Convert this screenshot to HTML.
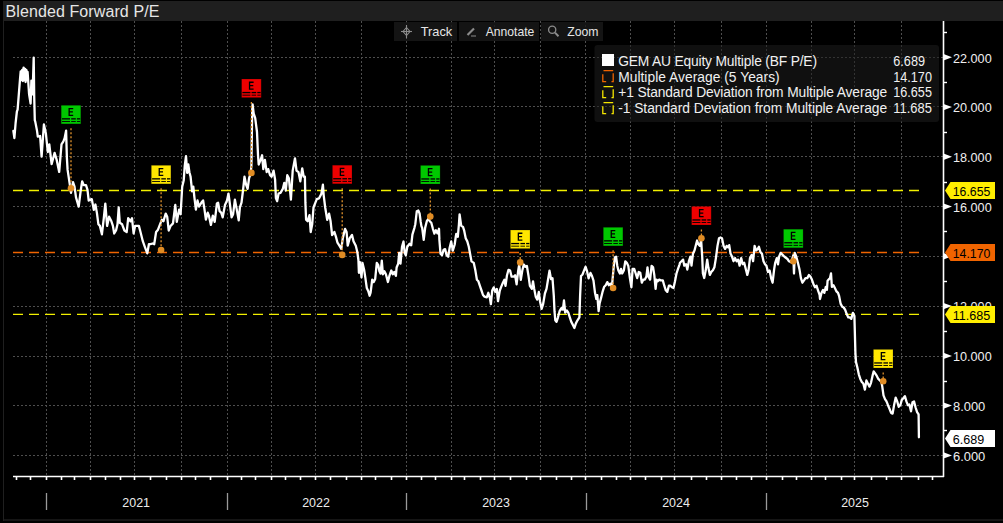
<!DOCTYPE html>
<html><head><meta charset="utf-8"><style>
html,body{margin:0;padding:0;background:#000;width:1003px;height:523px;overflow:hidden}
#frame{position:absolute;left:3px;top:1px;width:1000px;height:520px;background:#1f1f1f}
#title{position:absolute;left:5.5px;top:2.2px;font:16px "Liberation Sans",sans-serif;color:#e6e6e6;line-height:20px;letter-spacing:0.1px}
#plot{position:absolute;left:4px;top:21px;width:999px;height:498px;background:#000}
svg{position:absolute;left:0;top:0}
.g{stroke:#4e4e4e;stroke-width:1;stroke-dasharray:2 2}
text{font-family:"Liberation Sans",sans-serif}
.al{font-size:13.4px;fill:#f0f0f0}
.yl{font-size:13.6px;fill:#ececec}
.lg{font-size:13.8px;fill:#f0f0f0}
.e{font-size:10.8px;fill:#000}
.tt{font-size:13px;fill:#e6e6e6}
.tb{position:absolute;top:22px;height:19px;background:#151515;font:13px "Liberation Sans",sans-serif;color:#e6e6e6;line-height:19px}
</style></head><body>
<div id="frame"></div>
<div id="plot"></div>
<div style="position:absolute;left:4px;top:519px;width:999px;height:2px;background:#151515"></div>
<div id="title">Blended Forward P/E</div>
<svg width="1003" height="523" viewBox="0 0 1003 523">
<line x1="46.5" y1="21" x2="46.5" y2="476.0" class="g"/>
<line x1="90.5" y1="21" x2="90.5" y2="476.0" class="g"/>
<line x1="134.5" y1="21" x2="134.5" y2="476.0" class="g"/>
<line x1="181.5" y1="21" x2="181.5" y2="476.0" class="g"/>
<line x1="227.5" y1="21" x2="227.5" y2="476.0" class="g"/>
<line x1="271.5" y1="21" x2="271.5" y2="476.0" class="g"/>
<line x1="315.5" y1="21" x2="315.5" y2="476.0" class="g"/>
<line x1="361.5" y1="21" x2="361.5" y2="476.0" class="g"/>
<line x1="406.5" y1="21" x2="406.5" y2="476.0" class="g"/>
<line x1="451.5" y1="21" x2="451.5" y2="476.0" class="g"/>
<line x1="494.5" y1="21" x2="494.5" y2="476.0" class="g"/>
<line x1="540.5" y1="21" x2="540.5" y2="476.0" class="g"/>
<line x1="585.5" y1="21" x2="585.5" y2="476.0" class="g"/>
<line x1="630.5" y1="21" x2="630.5" y2="476.0" class="g"/>
<line x1="674.5" y1="21" x2="674.5" y2="476.0" class="g"/>
<line x1="721.5" y1="21" x2="721.5" y2="476.0" class="g"/>
<line x1="766.5" y1="21" x2="766.5" y2="476.0" class="g"/>
<line x1="811.5" y1="21" x2="811.5" y2="476.0" class="g"/>
<line x1="854.5" y1="21" x2="854.5" y2="476.0" class="g"/>
<line x1="901.5" y1="21" x2="901.5" y2="476.0" class="g"/>
<line x1="13" y1="455.5" x2="943.5" y2="455.5" class="g"/>
<line x1="13" y1="405.5" x2="943.5" y2="405.5" class="g"/>
<line x1="13" y1="356.5" x2="943.5" y2="356.5" class="g"/>
<line x1="13" y1="306.5" x2="943.5" y2="306.5" class="g"/>
<line x1="13" y1="256.5" x2="943.5" y2="256.5" class="g"/>
<line x1="13" y1="206.5" x2="943.5" y2="206.5" class="g"/>
<line x1="13" y1="156.5" x2="943.5" y2="156.5" class="g"/>
<line x1="13" y1="106.5" x2="943.5" y2="106.5" class="g"/>
<line x1="13" y1="57.5" x2="943.5" y2="57.5" class="g"/>
<rect x="594.5" y="45" width="344.5" height="77" rx="3" fill="rgba(30,30,30,0.55)"/>
<line x1="13" y1="190.5" x2="920" y2="190.5" stroke="#f2f000" stroke-width="1.35" stroke-dasharray="10 6"/>
<line x1="13" y1="252.5" x2="920" y2="252.5" stroke="#f06400" stroke-width="1.35" stroke-dasharray="10 6"/>
<line x1="13" y1="314.4" x2="920" y2="314.4" stroke="#f2f000" stroke-width="1.35" stroke-dasharray="10 6"/>
<line x1="13" y1="476.5" x2="944.0" y2="476.5" stroke="#fff" stroke-width="1.6"/>
<line x1="943.5" y1="21" x2="943.5" y2="477.0" stroke="#fff" stroke-width="1.6"/>
<line x1="16.5" y1="476.5" x2="16.5" y2="480.0" stroke="#fff" stroke-width="1.6"/>
<line x1="30.5" y1="476.5" x2="30.5" y2="480.0" stroke="#fff" stroke-width="1.6"/>
<line x1="46.5" y1="476.5" x2="46.5" y2="480.0" stroke="#fff" stroke-width="1.6"/>
<line x1="61.5" y1="476.5" x2="61.5" y2="480.0" stroke="#fff" stroke-width="1.6"/>
<line x1="74.5" y1="476.5" x2="74.5" y2="480.0" stroke="#fff" stroke-width="1.6"/>
<line x1="90.5" y1="476.5" x2="90.5" y2="480.0" stroke="#fff" stroke-width="1.6"/>
<line x1="105.5" y1="476.5" x2="105.5" y2="480.0" stroke="#fff" stroke-width="1.6"/>
<line x1="120.5" y1="476.5" x2="120.5" y2="480.0" stroke="#fff" stroke-width="1.6"/>
<line x1="134.5" y1="476.5" x2="134.5" y2="480.0" stroke="#fff" stroke-width="1.6"/>
<line x1="150.5" y1="476.5" x2="150.5" y2="480.0" stroke="#fff" stroke-width="1.6"/>
<line x1="166.5" y1="476.5" x2="166.5" y2="480.0" stroke="#fff" stroke-width="1.6"/>
<line x1="181.5" y1="476.5" x2="181.5" y2="480.0" stroke="#fff" stroke-width="1.6"/>
<line x1="195.5" y1="476.5" x2="195.5" y2="480.0" stroke="#fff" stroke-width="1.6"/>
<line x1="210.5" y1="476.5" x2="210.5" y2="480.0" stroke="#fff" stroke-width="1.6"/>
<line x1="227.5" y1="476.5" x2="227.5" y2="480.0" stroke="#fff" stroke-width="1.6"/>
<line x1="241.5" y1="476.5" x2="241.5" y2="480.0" stroke="#fff" stroke-width="1.6"/>
<line x1="255.5" y1="476.5" x2="255.5" y2="480.0" stroke="#fff" stroke-width="1.6"/>
<line x1="271.5" y1="476.5" x2="271.5" y2="480.0" stroke="#fff" stroke-width="1.6"/>
<line x1="285.5" y1="476.5" x2="285.5" y2="480.0" stroke="#fff" stroke-width="1.6"/>
<line x1="300.5" y1="476.5" x2="300.5" y2="480.0" stroke="#fff" stroke-width="1.6"/>
<line x1="315.5" y1="476.5" x2="315.5" y2="480.0" stroke="#fff" stroke-width="1.6"/>
<line x1="330.5" y1="476.5" x2="330.5" y2="480.0" stroke="#fff" stroke-width="1.6"/>
<line x1="346.5" y1="476.5" x2="346.5" y2="480.0" stroke="#fff" stroke-width="1.6"/>
<line x1="361.5" y1="476.5" x2="361.5" y2="480.0" stroke="#fff" stroke-width="1.6"/>
<line x1="375.5" y1="476.5" x2="375.5" y2="480.0" stroke="#fff" stroke-width="1.6"/>
<line x1="391.5" y1="476.5" x2="391.5" y2="480.0" stroke="#fff" stroke-width="1.6"/>
<line x1="406.5" y1="476.5" x2="406.5" y2="480.0" stroke="#fff" stroke-width="1.6"/>
<line x1="421.5" y1="476.5" x2="421.5" y2="480.0" stroke="#fff" stroke-width="1.6"/>
<line x1="435.5" y1="476.5" x2="435.5" y2="480.0" stroke="#fff" stroke-width="1.6"/>
<line x1="451.5" y1="476.5" x2="451.5" y2="480.0" stroke="#fff" stroke-width="1.6"/>
<line x1="464.5" y1="476.5" x2="464.5" y2="480.0" stroke="#fff" stroke-width="1.6"/>
<line x1="480.5" y1="476.5" x2="480.5" y2="480.0" stroke="#fff" stroke-width="1.6"/>
<line x1="494.5" y1="476.5" x2="494.5" y2="480.0" stroke="#fff" stroke-width="1.6"/>
<line x1="510.5" y1="476.5" x2="510.5" y2="480.0" stroke="#fff" stroke-width="1.6"/>
<line x1="526.5" y1="476.5" x2="526.5" y2="480.0" stroke="#fff" stroke-width="1.6"/>
<line x1="540.5" y1="476.5" x2="540.5" y2="480.0" stroke="#fff" stroke-width="1.6"/>
<line x1="556.5" y1="476.5" x2="556.5" y2="480.0" stroke="#fff" stroke-width="1.6"/>
<line x1="571.5" y1="476.5" x2="571.5" y2="480.0" stroke="#fff" stroke-width="1.6"/>
<line x1="585.5" y1="476.5" x2="585.5" y2="480.0" stroke="#fff" stroke-width="1.6"/>
<line x1="601.5" y1="476.5" x2="601.5" y2="480.0" stroke="#fff" stroke-width="1.6"/>
<line x1="616.5" y1="476.5" x2="616.5" y2="480.0" stroke="#fff" stroke-width="1.6"/>
<line x1="630.5" y1="476.5" x2="630.5" y2="480.0" stroke="#fff" stroke-width="1.6"/>
<line x1="645.5" y1="476.5" x2="645.5" y2="480.0" stroke="#fff" stroke-width="1.6"/>
<line x1="661.5" y1="476.5" x2="661.5" y2="480.0" stroke="#fff" stroke-width="1.6"/>
<line x1="674.5" y1="476.5" x2="674.5" y2="480.0" stroke="#fff" stroke-width="1.6"/>
<line x1="691.5" y1="476.5" x2="691.5" y2="480.0" stroke="#fff" stroke-width="1.6"/>
<line x1="706.5" y1="476.5" x2="706.5" y2="480.0" stroke="#fff" stroke-width="1.6"/>
<line x1="721.5" y1="476.5" x2="721.5" y2="480.0" stroke="#fff" stroke-width="1.6"/>
<line x1="736.5" y1="476.5" x2="736.5" y2="480.0" stroke="#fff" stroke-width="1.6"/>
<line x1="751.5" y1="476.5" x2="751.5" y2="480.0" stroke="#fff" stroke-width="1.6"/>
<line x1="766.5" y1="476.5" x2="766.5" y2="480.0" stroke="#fff" stroke-width="1.6"/>
<line x1="782.5" y1="476.5" x2="782.5" y2="480.0" stroke="#fff" stroke-width="1.6"/>
<line x1="796.5" y1="476.5" x2="796.5" y2="480.0" stroke="#fff" stroke-width="1.6"/>
<line x1="811.5" y1="476.5" x2="811.5" y2="480.0" stroke="#fff" stroke-width="1.6"/>
<line x1="825.5" y1="476.5" x2="825.5" y2="480.0" stroke="#fff" stroke-width="1.6"/>
<line x1="841.5" y1="476.5" x2="841.5" y2="480.0" stroke="#fff" stroke-width="1.6"/>
<line x1="854.5" y1="476.5" x2="854.5" y2="480.0" stroke="#fff" stroke-width="1.6"/>
<line x1="871.5" y1="476.5" x2="871.5" y2="480.0" stroke="#fff" stroke-width="1.6"/>
<line x1="886.5" y1="476.5" x2="886.5" y2="480.0" stroke="#fff" stroke-width="1.6"/>
<line x1="901.5" y1="476.5" x2="901.5" y2="480.0" stroke="#fff" stroke-width="1.6"/>
<line x1="918.5" y1="476.5" x2="918.5" y2="480.0" stroke="#fff" stroke-width="1.6"/>
<line x1="932.5" y1="476.5" x2="932.5" y2="480.0" stroke="#fff" stroke-width="1.6"/>
<line x1="46.5" y1="493" x2="46.5" y2="510" stroke="#9a9a9a" stroke-width="1.3"/>
<text x="122.3" y="506.8" class="yl" textLength="27.7" lengthAdjust="spacingAndGlyphs">2021</text>
<line x1="227.5" y1="493" x2="227.5" y2="510" stroke="#9a9a9a" stroke-width="1.3"/>
<text x="302.2" y="506.8" class="yl" textLength="27.7" lengthAdjust="spacingAndGlyphs">2022</text>
<line x1="406.5" y1="493" x2="406.5" y2="510" stroke="#9a9a9a" stroke-width="1.3"/>
<text x="482.2" y="506.8" class="yl" textLength="27.7" lengthAdjust="spacingAndGlyphs">2023</text>
<line x1="586.5" y1="493" x2="586.5" y2="510" stroke="#9a9a9a" stroke-width="1.3"/>
<text x="662.2" y="506.8" class="yl" textLength="27.7" lengthAdjust="spacingAndGlyphs">2024</text>
<line x1="766.5" y1="493" x2="766.5" y2="510" stroke="#9a9a9a" stroke-width="1.3"/>
<text x="841.2" y="506.8" class="yl" textLength="27.7" lengthAdjust="spacingAndGlyphs">2025</text>
<line x1="943.5" y1="430.5" x2="947.0" y2="430.5" stroke="#fff" stroke-width="1.4"/>
<line x1="943.5" y1="381.5" x2="947.0" y2="381.5" stroke="#fff" stroke-width="1.4"/>
<line x1="943.5" y1="331.5" x2="947.0" y2="331.5" stroke="#fff" stroke-width="1.4"/>
<line x1="943.5" y1="281.5" x2="947.0" y2="281.5" stroke="#fff" stroke-width="1.4"/>
<line x1="943.5" y1="231.5" x2="947.0" y2="231.5" stroke="#fff" stroke-width="1.4"/>
<line x1="943.5" y1="182.5" x2="947.0" y2="182.5" stroke="#fff" stroke-width="1.4"/>
<line x1="943.5" y1="132.5" x2="947.0" y2="132.5" stroke="#fff" stroke-width="1.4"/>
<line x1="943.5" y1="82.5" x2="947.0" y2="82.5" stroke="#fff" stroke-width="1.4"/>
<line x1="943.5" y1="32.5" x2="947.0" y2="32.5" stroke="#fff" stroke-width="1.4"/>
<polygon points="943.5,452.2 952.0,455.4 943.5,458.6" fill="#fff"/>
<text x="953" y="460.7" class="al" textLength="32.3" lengthAdjust="spacingAndGlyphs">6.000</text>
<polygon points="943.5,402.4 952.0,405.6 943.5,408.8" fill="#fff"/>
<text x="953" y="410.9" class="al" textLength="32.3" lengthAdjust="spacingAndGlyphs">8.000</text>
<polygon points="943.5,352.7 952.0,355.9 943.5,359.1" fill="#fff"/>
<text x="953" y="361.2" class="al" textLength="38.7" lengthAdjust="spacingAndGlyphs">10.000</text>
<polygon points="943.5,302.9 952.0,306.1 943.5,309.3" fill="#fff"/>
<text x="953" y="311.4" class="al" textLength="38.7" lengthAdjust="spacingAndGlyphs">12.000</text>
<polygon points="943.5,253.1 952.0,256.3 943.5,259.5" fill="#fff"/>
<polygon points="943.5,203.4 952.0,206.6 943.5,209.8" fill="#fff"/>
<text x="953" y="211.9" class="al" textLength="38.7" lengthAdjust="spacingAndGlyphs">16.000</text>
<polygon points="943.5,153.6 952.0,156.8 943.5,160.0" fill="#fff"/>
<text x="953" y="162.1" class="al" textLength="38.7" lengthAdjust="spacingAndGlyphs">18.000</text>
<polygon points="943.5,103.9 952.0,107.1 943.5,110.3" fill="#fff"/>
<text x="953" y="112.4" class="al" textLength="38.7" lengthAdjust="spacingAndGlyphs">20.000</text>
<polygon points="943.5,54.1 952.0,57.3 943.5,60.5" fill="#fff"/>
<text x="953" y="62.6" class="al" textLength="38.7" lengthAdjust="spacingAndGlyphs">22.000</text>
<polygon points="945,190.4 950.5,181.9 995,181.9 995,198.9 950.5,198.9" fill="#ffee00"/>
<text x="952.8" y="195.7" class="al" style="fill:#000" textLength="37.5" lengthAdjust="spacingAndGlyphs">16.655</text>
<polygon points="945,252.6 950.5,244.1 995,244.1 995,261.1 950.5,261.1" fill="#f06400"/>
<text x="952.8" y="257.9" class="al" style="fill:#000" textLength="37.5" lengthAdjust="spacingAndGlyphs">14.170</text>
<polygon points="945,314.4 950.5,305.9 995,305.9 995,322.9 950.5,322.9" fill="#ffee00"/>
<text x="952.8" y="319.7" class="al" style="fill:#000" textLength="37.5" lengthAdjust="spacingAndGlyphs">11.685</text>
<polygon points="945,438.5 950.5,430.0 995,430.0 995,447.0 950.5,447.0" fill="#ffffff"/>
<text x="952.8" y="443.8" class="al" style="fill:#000" textLength="31.5" lengthAdjust="spacingAndGlyphs">6.689</text>
<rect x="61.2" y="105.3" width="19.6" height="18.6" fill="#00c800" stroke="rgba(0,0,0,0.25)" stroke-width="0.8"/>
<path d="M68.5 107.9 h4.7 v1.3 h-3.4 v2.15 h3.1 v1.25 h-3.1 v2.2 h3.4 v1.3 h-4.7 z" fill="#000"/>
<rect x="62.0" y="118.2" width="8.0" height="1.3" fill="#000"/>
<rect x="62.0" y="121.0" width="8.0" height="0.9" fill="#000"/>
<rect x="71.2" y="118.2" width="4.6" height="1.3" fill="#000"/>
<rect x="71.2" y="121.0" width="4.6" height="0.9" fill="#000"/>
<rect x="76.9" y="118.2" width="3.3" height="1.3" fill="#000"/>
<rect x="76.9" y="121.0" width="3.3" height="0.9" fill="#000"/>
<rect x="151.3" y="165.3" width="19.6" height="18.6" fill="#ffe600" stroke="rgba(0,0,0,0.25)" stroke-width="0.8"/>
<path d="M158.6 167.9 h4.7 v1.3 h-3.4 v2.15 h3.1 v1.25 h-3.1 v2.2 h3.4 v1.3 h-4.7 z" fill="#000"/>
<rect x="152.1" y="178.2" width="8.0" height="1.3" fill="#000"/>
<rect x="152.1" y="181.0" width="8.0" height="0.9" fill="#000"/>
<rect x="161.3" y="178.2" width="4.6" height="1.3" fill="#000"/>
<rect x="161.3" y="181.0" width="4.6" height="0.9" fill="#000"/>
<rect x="167.0" y="178.2" width="3.3" height="1.3" fill="#000"/>
<rect x="167.0" y="181.0" width="3.3" height="0.9" fill="#000"/>
<rect x="241.6" y="79.0" width="19.6" height="18.6" fill="#ee0000" stroke="rgba(0,0,0,0.25)" stroke-width="0.8"/>
<path d="M248.9 81.6 h4.7 v1.3 h-3.4 v2.15 h3.1 v1.25 h-3.1 v2.2 h3.4 v1.3 h-4.7 z" fill="#000"/>
<rect x="242.4" y="91.9" width="8.0" height="1.3" fill="#000"/>
<rect x="242.4" y="94.7" width="8.0" height="0.9" fill="#000"/>
<rect x="251.6" y="91.9" width="4.6" height="1.3" fill="#000"/>
<rect x="251.6" y="94.7" width="4.6" height="0.9" fill="#000"/>
<rect x="257.3" y="91.9" width="3.3" height="1.3" fill="#000"/>
<rect x="257.3" y="94.7" width="3.3" height="0.9" fill="#000"/>
<rect x="332.4" y="165.2" width="19.6" height="18.6" fill="#ee0000" stroke="rgba(0,0,0,0.25)" stroke-width="0.8"/>
<path d="M339.7 167.8 h4.7 v1.3 h-3.4 v2.15 h3.1 v1.25 h-3.1 v2.2 h3.4 v1.3 h-4.7 z" fill="#000"/>
<rect x="333.2" y="178.1" width="8.0" height="1.3" fill="#000"/>
<rect x="333.2" y="180.9" width="8.0" height="0.9" fill="#000"/>
<rect x="342.4" y="178.1" width="4.6" height="1.3" fill="#000"/>
<rect x="342.4" y="180.9" width="4.6" height="0.9" fill="#000"/>
<rect x="348.1" y="178.1" width="3.3" height="1.3" fill="#000"/>
<rect x="348.1" y="180.9" width="3.3" height="0.9" fill="#000"/>
<rect x="420.5" y="165.4" width="19.6" height="18.6" fill="#00c800" stroke="rgba(0,0,0,0.25)" stroke-width="0.8"/>
<path d="M427.8 168.0 h4.7 v1.3 h-3.4 v2.15 h3.1 v1.25 h-3.1 v2.2 h3.4 v1.3 h-4.7 z" fill="#000"/>
<rect x="421.3" y="178.3" width="8.0" height="1.3" fill="#000"/>
<rect x="421.3" y="181.1" width="8.0" height="0.9" fill="#000"/>
<rect x="430.5" y="178.3" width="4.6" height="1.3" fill="#000"/>
<rect x="430.5" y="181.1" width="4.6" height="0.9" fill="#000"/>
<rect x="436.2" y="178.3" width="3.3" height="1.3" fill="#000"/>
<rect x="436.2" y="181.1" width="3.3" height="0.9" fill="#000"/>
<rect x="510.4" y="230.0" width="19.6" height="18.6" fill="#ffe600" stroke="rgba(0,0,0,0.25)" stroke-width="0.8"/>
<path d="M517.7 232.6 h4.7 v1.3 h-3.4 v2.15 h3.1 v1.25 h-3.1 v2.2 h3.4 v1.3 h-4.7 z" fill="#000"/>
<rect x="511.2" y="242.9" width="8.0" height="1.3" fill="#000"/>
<rect x="511.2" y="245.7" width="8.0" height="0.9" fill="#000"/>
<rect x="520.4" y="242.9" width="4.6" height="1.3" fill="#000"/>
<rect x="520.4" y="245.7" width="4.6" height="0.9" fill="#000"/>
<rect x="526.1" y="242.9" width="3.3" height="1.3" fill="#000"/>
<rect x="526.1" y="245.7" width="3.3" height="0.9" fill="#000"/>
<rect x="603.3" y="227.3" width="19.6" height="18.6" fill="#00c800" stroke="rgba(0,0,0,0.25)" stroke-width="0.8"/>
<path d="M610.6 229.9 h4.7 v1.3 h-3.4 v2.15 h3.1 v1.25 h-3.1 v2.2 h3.4 v1.3 h-4.7 z" fill="#000"/>
<rect x="604.1" y="240.2" width="8.0" height="1.3" fill="#000"/>
<rect x="604.1" y="243.0" width="8.0" height="0.9" fill="#000"/>
<rect x="613.3" y="240.2" width="4.6" height="1.3" fill="#000"/>
<rect x="613.3" y="243.0" width="4.6" height="0.9" fill="#000"/>
<rect x="619.0" y="240.2" width="3.3" height="1.3" fill="#000"/>
<rect x="619.0" y="243.0" width="3.3" height="0.9" fill="#000"/>
<rect x="691.6" y="206.4" width="19.6" height="18.6" fill="#ee0000" stroke="rgba(0,0,0,0.25)" stroke-width="0.8"/>
<path d="M698.9 209.0 h4.7 v1.3 h-3.4 v2.15 h3.1 v1.25 h-3.1 v2.2 h3.4 v1.3 h-4.7 z" fill="#000"/>
<rect x="692.4" y="219.3" width="8.0" height="1.3" fill="#000"/>
<rect x="692.4" y="222.1" width="8.0" height="0.9" fill="#000"/>
<rect x="701.6" y="219.3" width="4.6" height="1.3" fill="#000"/>
<rect x="701.6" y="222.1" width="4.6" height="0.9" fill="#000"/>
<rect x="707.3" y="219.3" width="3.3" height="1.3" fill="#000"/>
<rect x="707.3" y="222.1" width="3.3" height="0.9" fill="#000"/>
<rect x="783.5" y="229.2" width="19.6" height="18.6" fill="#00c800" stroke="rgba(0,0,0,0.25)" stroke-width="0.8"/>
<path d="M790.8 231.8 h4.7 v1.3 h-3.4 v2.15 h3.1 v1.25 h-3.1 v2.2 h3.4 v1.3 h-4.7 z" fill="#000"/>
<rect x="784.3" y="242.1" width="8.0" height="1.3" fill="#000"/>
<rect x="784.3" y="244.9" width="8.0" height="0.9" fill="#000"/>
<rect x="793.5" y="242.1" width="4.6" height="1.3" fill="#000"/>
<rect x="793.5" y="244.9" width="4.6" height="0.9" fill="#000"/>
<rect x="799.2" y="242.1" width="3.3" height="1.3" fill="#000"/>
<rect x="799.2" y="244.9" width="3.3" height="0.9" fill="#000"/>
<rect x="873.4" y="349.4" width="19.6" height="18.6" fill="#ffe600" stroke="rgba(0,0,0,0.25)" stroke-width="0.8"/>
<path d="M880.7 352.0 h4.7 v1.3 h-3.4 v2.15 h3.1 v1.25 h-3.1 v2.2 h3.4 v1.3 h-4.7 z" fill="#000"/>
<rect x="874.2" y="362.3" width="8.0" height="1.3" fill="#000"/>
<rect x="874.2" y="365.1" width="8.0" height="0.9" fill="#000"/>
<rect x="883.4" y="362.3" width="4.6" height="1.3" fill="#000"/>
<rect x="883.4" y="365.1" width="4.6" height="0.9" fill="#000"/>
<rect x="889.1" y="362.3" width="3.3" height="1.3" fill="#000"/>
<rect x="889.1" y="365.1" width="3.3" height="0.9" fill="#000"/>
<polyline points="13.4,131.0 14.4,138.0 15.6,123.0 16.9,111.5 17.6,109.6 19.9,80.6 20.7,71.4 21.4,80.0 22.2,69.9 22.9,81.0 23.6,67.6 24.3,80.0 25.0,69.0 25.6,82.0 26.3,69.9 27.0,80.0 27.6,72.0 29.1,94.3 30.6,103.5 31.4,80.6 32.6,94.3 33.7,57.6 34.2,95.9 34.8,120.3 35.2,121.4 37.0,130.6 37.8,136.7 40.1,136.0 41.6,156.6 43.9,124.5 45.9,133.6 47.8,152.0 49.3,144.3 51.6,164.2 54.6,152.8 56.6,159.6 59.2,171.9 61.5,144.3 63.4,141.3 64.6,138.2 66.1,130.6 66.9,158.1 67.6,169.9 69.9,185.2 71.0,192.8 73.0,182.1 74.5,186.7 76.0,197.4 78.7,206.6 80.6,191.3 82.2,181.3 83.7,185.2 86.0,185.2 87.5,189.8 88.7,200.5 90.0,199.9 91.8,199.1 93.8,209.8 95.4,204.5 96.9,212.9 98.4,224.3 99.9,225.9 101.9,234.3 103.8,218.2 105.3,203.7 107.1,225.9 109.1,216.7 111.4,221.3 112.9,225.9 114.2,233.5 116.0,230.5 117.5,224.3 118.7,207.5 119.8,222.8 122.1,224.3 124.4,230.5 126.7,232.0 128.2,218.2 130.5,221.3 132.0,218.2 133.6,233.5 135.1,225.9 137.4,225.9 138.9,225.9 140.5,232.0 142.8,241.2 145.0,247.3 147.3,253.4 148.9,244.2 150.4,244.2 152.7,243.5 154.2,244.2 156.1,232.0 158.0,229.7 160.3,223.6 161.9,219.8 163.4,221.3 165.7,213.6 167.2,216.7 168.7,230.5 170.5,226.0 173.0,223.4 175.3,205.0 176.8,221.9 179.1,209.6 180.6,214.2 182.2,186.7 183.7,180.6 184.8,165.3 186.0,156.1 187.2,172.9 188.3,164.5 189.4,172.2 190.6,176.8 192.1,191.3 193.3,186.7 194.4,197.4 195.9,209.6 197.5,200.5 199.0,206.6 201.3,202.8 203.1,200.5 204.3,208.1 205.9,219.6 207.7,212.7 208.9,215.7 210.9,224.9 212.8,215.7 214.7,221.9 216.9,203.5 218.1,202.8 219.6,211.2 221.2,212.7 222.7,217.3 225.0,205.0 227.0,200.5 228.5,193.6 230.0,205.0 231.6,217.3 233.1,214.2 234.9,199.7 236.5,208.1 238.7,220.3 239.9,207.3 241.5,202.7 243.0,190.5 244.5,176.7 246.0,184.3 247.6,188.9 249.1,178.2 250.6,173.6 251.4,166.0 252.2,110.6 252.6,104.5 253.7,113.6 255.2,118.2 257.0,132.0 258.0,155.0 258.7,164.5 260.6,159.9 262.1,155.3 263.3,169.1 264.9,159.9 266.7,172.1 268.2,169.1 270.1,175.2 271.6,176.7 273.6,170.6 275.1,179.8 275.9,198.1 277.1,201.2 278.6,193.5 280.5,192.8 282.8,188.9 284.3,182.8 285.8,190.5 287.3,175.2 288.9,178.2 290.9,199.6 292.7,170.6 295.0,158.3 296.5,170.6 298.5,172.1 300.3,181.3 302.2,168.3 303.7,176.7 304.9,176.7 305.4,202.9 306.1,219.8 307.6,221.3 309.5,215.2 310.7,232.0 312.2,224.3 313.5,207.5 315.3,202.9 316.8,199.1 319.1,198.3 321.4,193.8 322.9,184.6 323.7,195.3 325.2,207.5 327.2,219.8 329.1,213.6 330.6,221.3 332.1,235.0 334.4,232.0 335.9,236.6 337.5,242.7 339.4,245.7 341.3,248.8 342.8,238.1 345.1,228.9 346.6,232.0 347.7,245.7 349.7,238.1 352.0,235.0 353.5,241.2 355.8,245.7 357.3,251.9 358.4,260.0 358.9,272.8 359.9,262.1 361.5,277.4 362.5,262.9 364.1,269.8 365.3,277.4 366.8,288.1 368.3,291.2 369.6,295.7 370.6,292.7 372.2,279.7 373.7,282.0 375.2,278.9 376.8,262.9 378.3,265.2 379.4,271.3 380.6,273.6 381.8,260.6 382.9,274.3 384.4,271.3 385.9,274.3 387.9,282.0 389.4,275.9 391.3,270.5 392.8,274.3 394.3,272.0 395.9,275.9 396.6,267.5 398.2,263.6 399.2,252.9 400.5,263.6 402.0,246.8 403.5,241.5 404.7,252.9 405.8,255.2 407.3,246.8 409.6,243.8 411.2,245.3 412.4,234.6 414.5,227.6 415.3,224.2 416.8,211.2 418.3,210.5 419.6,213.5 420.6,221.2 421.4,226.1 422.2,228.0 423.7,239.9 425.2,227.6 426.8,221.2 428.3,218.9 429.8,221.2 431.3,222.7 432.9,228.8 434.4,233.6 435.9,230.3 437.5,233.4 439.0,228.8 439.4,239.9 440.5,253.6 442.0,255.2 443.6,249.8 445.1,249.1 446.6,255.2 448.2,256.7 449.7,247.5 451.2,241.4 452.8,250.6 454.7,244.5 455.8,236.5 456.3,233.8 457.8,236.8 458.9,224.6 459.6,214.3 461.2,225.7 463.0,226.9 464.2,230.7 465.7,238.3 467.3,241.4 468.8,246.8 471.5,261.4 473.8,262.9 475.4,270.6 476.9,279.8 478.4,281.3 479.9,285.9 481.5,290.5 483.0,295.0 484.5,296.6 486.8,297.3 488.3,292.8 489.9,298.1 490.9,304.2 492.2,290.5 493.7,287.4 495.2,292.0 496.8,288.9 498.0,301.2 499.8,290.5 501.3,286.6 502.9,282.8 504.4,279.8 505.5,285.9 507.0,275.2 508.5,269.8 510.1,270.6 511.6,276.7 513.6,276.7 515.1,275.2 516.6,284.3 518.2,270.6 519.2,264.5 520.8,279.8 522.3,270.6 523.8,264.5 525.4,266.8 526.9,266.0 528.4,275.2 529.9,285.9 531.9,288.9 533.0,281.3 534.2,288.9 535.7,296.6 537.3,299.6 538.8,292.0 540.0,301.2 541.6,308.8 543.1,304.2 544.9,293.5 546.5,288.9 548.0,279.8 549.5,270.6 551.0,279.0 552.5,278.3 553.8,295.9 554.5,311.2 555.3,320.3 556.5,321.9 558.0,317.3 559.6,311.2 561.4,308.1 562.9,309.6 564.0,300.5 565.2,312.7 566.8,310.4 568.3,312.7 569.8,317.3 571.3,321.9 572.9,324.9 574.4,328.0 575.9,323.4 577.5,320.3 579.4,317.3 580.1,295.9 581.0,276.0 582.5,274.5 584.0,270.6 585.6,266.8 587.1,271.4 588.6,278.3 590.5,272.9 592.0,276.0 593.5,280.6 595.0,292.8 596.3,298.9 597.3,295.1 598.6,311.2 599.6,303.5 601.2,297.4 602.7,291.3 604.2,286.7 605.7,285.2 607.3,282.1 608.8,285.2 610.3,283.6 611.9,286.7 613.8,265.9 614.9,257.5 616.1,256.7 617.3,265.9 618.4,270.5 619.9,273.5 621.0,268.9 622.2,273.5 623.8,270.5 625.3,261.3 626.8,262.8 628.3,265.9 629.9,278.1 631.4,287.3 632.6,268.9 634.2,268.9 635.7,273.5 637.2,278.1 638.7,272.0 640.3,272.8 641.8,282.7 643.3,279.6 644.9,279.6 646.4,276.6 647.5,267.4 648.5,276.6 650.1,279.6 651.6,265.9 653.1,267.4 654.3,275.0 655.6,288.8 656.6,279.6 657.7,281.2 659.2,279.6 660.8,280.4 662.8,280.4 664.3,285.7 665.8,290.3 667.3,291.9 668.9,285.7 670.4,285.7 671.9,287.3 673.5,288.0 675.0,281.2 676.5,273.5 678.0,268.9 679.6,264.3 680.0,262.7 681.5,261.2 683.1,259.6 684.3,265.7 686.1,264.2 687.3,269.6 688.9,261.2 690.4,256.6 691.5,265.7 693.0,253.5 694.5,250.5 696.1,244.3 697.1,240.5 698.3,244.3 699.9,245.9 701.1,239.8 702.2,256.6 702.9,273.4 704.2,278.0 705.7,270.3 707.2,259.6 708.3,267.3 709.8,274.9 711.3,271.9 712.9,270.3 714.4,267.3 715.9,258.1 717.5,245.9 719.0,238.2 720.5,237.5 722.0,238.2 723.6,245.9 725.1,248.9 726.6,245.9 728.2,247.4 729.2,245.1 730.5,253.5 732.0,256.6 733.5,261.2 735.0,258.1 736.6,261.2 738.1,259.6 739.6,265.7 741.2,258.1 742.7,264.2 744.2,262.7 745.7,268.8 747.3,274.9 748.5,270.3 750.0,258.1 751.6,255.0 753.1,261.2 754.6,245.9 756.1,250.5 757.6,249.1 758.9,246.8 760.4,252.1 761.9,253.6 763.5,261.3 765.0,264.3 766.5,265.9 768.0,272.0 769.6,270.5 771.1,278.1 772.6,282.7 774.2,268.9 775.2,262.8 776.8,258.2 778.0,264.3 779.1,256.7 780.6,252.9 782.1,254.4 783.6,255.9 785.5,257.5 787.5,259.0 789.0,261.3 790.5,262.0 792.0,259.8 793.3,255.2 794.0,273.5 794.8,252.9 796.3,256.7 797.9,262.8 799.4,268.9 800.9,278.1 802.4,282.7 804.0,280.4 805.5,278.1 807.3,278.1 808.9,275.0 810.4,276.6 811.9,279.6 813.5,284.2 815.0,287.3 816.5,285.7 818.0,290.3 819.6,294.9 820.0,299.0 821.5,292.9 823.1,289.9 824.3,292.9 825.8,286.8 826.9,289.9 827.6,280.7 828.9,279.2 829.9,278.4 831.0,273.4 831.9,286.8 833.5,285.3 835.0,288.3 836.5,291.4 838.0,292.9 839.1,296.0 840.6,303.6 842.2,306.7 843.7,307.5 845.2,309.8 846.8,314.3 848.3,317.4 849.8,317.4 851.3,318.9 852.9,312.8 854.4,315.9 855.4,352.9 856.0,362.1 857.2,366.7 858.8,374.3 860.3,378.9 861.8,382.0 863.3,383.5 864.9,389.6 866.4,380.5 867.9,383.5 869.5,386.6 871.0,382.8 872.5,375.9 873.7,371.3 875.3,373.6 876.8,375.9 878.3,378.9 879.9,380.5 881.5,382.3 882.2,386.1 883.5,395.3 885.0,399.1 886.5,401.4 888.0,405.2 889.6,409.0 891.1,412.9 892.6,413.6 894.2,404.5 895.7,397.6 897.2,401.4 898.7,406.8 900.3,405.2 901.8,399.9 903.3,398.3 904.9,396.1 906.4,401.4 907.9,405.2 909.4,404.5 911.0,411.3 912.5,402.2 914.0,401.4 915.6,407.5 917.1,412.1 918.6,414.4 918.9,437.3" fill="none" stroke="#fff" stroke-width="2.3" stroke-linejoin="round" stroke-linecap="round"/>
<line x1="71.0" y1="128.3" x2="71.0" y2="188.2" stroke="#e0922c" stroke-width="1.3" stroke-dasharray="2 2"/>
<line x1="161.1" y1="188.3" x2="161.1" y2="250" stroke="#e0922c" stroke-width="1.3" stroke-dasharray="2 2"/>
<line x1="251.4" y1="102" x2="251.4" y2="172.9" stroke="#e0922c" stroke-width="1.3" stroke-dasharray="2 2"/>
<line x1="342.2" y1="188.2" x2="342.2" y2="254.9" stroke="#e0922c" stroke-width="1.3" stroke-dasharray="2 2"/>
<line x1="430.3" y1="188.4" x2="430.3" y2="216.6" stroke="#e0922c" stroke-width="1.3" stroke-dasharray="2 2"/>
<line x1="520.2" y1="253" x2="520.2" y2="262.4" stroke="#e0922c" stroke-width="1.3" stroke-dasharray="2 2"/>
<line x1="613.1" y1="250.3" x2="613.1" y2="288" stroke="#e0922c" stroke-width="1.3" stroke-dasharray="2 2"/>
<line x1="701.4" y1="229.4" x2="701.4" y2="238.2" stroke="#e0922c" stroke-width="1.3" stroke-dasharray="2 2"/>
<line x1="793.3" y1="252.2" x2="793.3" y2="261.3" stroke="#e0922c" stroke-width="1.3" stroke-dasharray="2 2"/>
<line x1="883.2" y1="372.4" x2="883.2" y2="381.2" stroke="#e0922c" stroke-width="1.3" stroke-dasharray="2 2"/>
<circle cx="71.0" cy="188.2" r="3.3" fill="#e08c24"/>
<circle cx="161.1" cy="250.0" r="3.3" fill="#e08c24"/>
<circle cx="251.4" cy="172.9" r="3.3" fill="#e08c24"/>
<circle cx="342.2" cy="254.9" r="3.3" fill="#e08c24"/>
<circle cx="430.3" cy="216.6" r="3.3" fill="#e08c24"/>
<circle cx="520.2" cy="262.4" r="3.3" fill="#e08c24"/>
<circle cx="613.1" cy="288.0" r="3.3" fill="#e08c24"/>
<circle cx="701.4" cy="238.2" r="3.3" fill="#e08c24"/>
<circle cx="793.3" cy="261.3" r="3.3" fill="#e08c24"/>
<circle cx="883.2" cy="381.2" r="3.3" fill="#e08c24"/>
<rect x="394" y="22" width="63" height="19" fill="rgba(24,24,24,0.82)"/>
<text x="420.7" y="35.7" class="tt" textLength="31.5" lengthAdjust="spacingAndGlyphs">Track</text>
<rect x="459" y="22" width="80" height="19" fill="rgba(24,24,24,0.82)"/>
<text x="485.7" y="35.7" class="tt" textLength="48.6" lengthAdjust="spacingAndGlyphs">Annotate</text>
<rect x="541" y="22" width="62" height="19" fill="rgba(24,24,24,0.82)"/>
<text x="567.2" y="35.7" class="tt" textLength="31.3" lengthAdjust="spacingAndGlyphs">Zoom</text>
<g stroke="#8c8c8c" stroke-width="1.1" fill="none"><path d="M406.5 27.5 L410 31.5 L406.5 35.5 L403 31.5 Z"/><line x1="406.5" y1="25" x2="406.5" y2="38.5"/><line x1="401" y1="31.5" x2="412" y2="31.5"/></g>
<g stroke="#8c8c8c" fill="none"><line x1="467.5" y1="35" x2="474" y2="28.5" stroke-width="2.2"/><line x1="471" y1="36" x2="476" y2="36" stroke-width="1"/></g>
<g stroke="#8c8c8c" fill="none"><circle cx="552.2" cy="29.8" r="3.6" stroke-width="1.3"/><line x1="555" y1="32.6" x2="558.5" y2="36.2" stroke-width="2"/></g>
<text x="618.2" y="65.6" class="lg" textLength="198.8" lengthAdjust="spacing">GEM AU Equity Multiple (BF P/E)</text>
<text x="893.3" y="65.6" class="lg" textLength="31.7" lengthAdjust="spacingAndGlyphs">6.689</text>
<text x="618.2" y="81.5" class="lg" textLength="161.5" lengthAdjust="spacing">Multiple Average (5 Years)</text>
<text x="893.3" y="81.5" class="lg" textLength="38.6" lengthAdjust="spacingAndGlyphs">14.170</text>
<text x="618.2" y="97.4" class="lg" textLength="269" lengthAdjust="spacing">+1 Standard Deviation from Multiple Average</text>
<text x="893.3" y="97.4" class="lg" textLength="38.6" lengthAdjust="spacingAndGlyphs">16.655</text>
<text x="618.2" y="113.3" class="lg" textLength="269" lengthAdjust="spacing">-1 Standard Deviation from Multiple Average</text>
<text x="893.3" y="113.3" class="lg" textLength="38.6" lengthAdjust="spacingAndGlyphs">11.685</text>
<rect x="602" y="54" width="12" height="12" fill="#fff"/>
<path d="M603.5 70.6 H613.2 M602.8 74.3 V81.6 H606.2 M613.2 73.2 V81.6 H611.5" fill="none" stroke="#f06400" stroke-width="1.3"/>
<path d="M603.5 86.6 H613.2 M602.8 90.3 V97.6 H606.2 M613.2 89.2 V97.6 H611.5" fill="none" stroke="#f5e600" stroke-width="1.3"/>
<path d="M603.5 102.6 H613.2 M602.8 106.3 V113.6 H606.2 M613.2 105.2 V113.6 H611.5" fill="none" stroke="#f5e600" stroke-width="1.3"/>
</svg>
</body></html>
